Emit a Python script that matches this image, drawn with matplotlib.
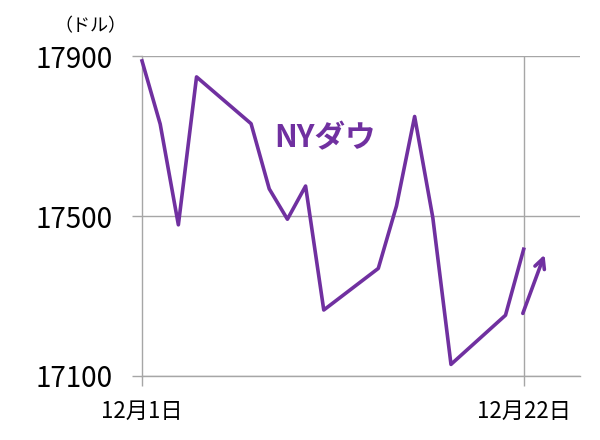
import matplotlib
matplotlib.use("Agg")
import matplotlib.pyplot as plt

plt.rcParams['font.family'] = ['Noto Sans CJK JP', 'DejaVu Sans']

# 12月の営業日とNYダウ終値
days = [1, 2, 3, 4, 7, 8, 9, 10, 11, 14, 15, 16, 17, 18, 21, 22]
dow = [17888, 17730, 17478, 17848, 17731, 17568, 17492, 17575,
       17265, 17369, 17525, 17749, 17496, 17129, 17252, 17417]
yticks = [17100, 17500, 17900]
xticks = [1, 22]
xlabels = ['12月1日', '12月22日']

purple = '#7030A0'
grid_c = '#A6A6A6'

fig = plt.figure(figsize=(6, 4.4), dpi=100)
ax = fig.add_axes([0.2367, 0.1455, 0.73, 0.727])

ax.plot(days, dow, color=purple, lw=2.6, clip_on=False, zorder=3)

ax.set_xlim(1, 25.1)
ax.set_ylim(17100, 17900)
ax.set_yticks(yticks)
ax.set_yticklabels([str(v) for v in yticks], fontsize=20)
ax.set_xticks(xticks)
ax.set_xticklabels(xlabels, fontsize=16)

for s in ['top', 'right']:
    ax.spines[s].set_visible(False)
for s in ['left', 'bottom']:
    ax.spines[s].set_color(grid_c)
    ax.spines[s].set_linewidth(1)

ax.grid(axis='y', color=grid_c, lw=1)
ax.axvline(22, color=grid_c, lw=1, zorder=1)
ax.tick_params(axis='y', length=7, color=grid_c, width=1, pad=14)
ax.tick_params(axis='x', length=7, color=grid_c, width=1, pad=10)
ax.set_axisbelow(True)

ax.text(11.05, 17695, 'NYダウ', color=purple, fontsize=22,
        fontweight='bold', ha='center', va='center')
ax.annotate('', xy=(23.2, 17410), xytext=(21.9, 17250),
            arrowprops=dict(arrowstyle='->', color=purple, lw=2.6,
                            mutation_scale=18), annotation_clip=False)

fig.text(0.15, 0.94, '（ドル）', fontsize=13, ha='center', va='center')

fig.savefig('out.png', dpi=100, facecolor='white')
